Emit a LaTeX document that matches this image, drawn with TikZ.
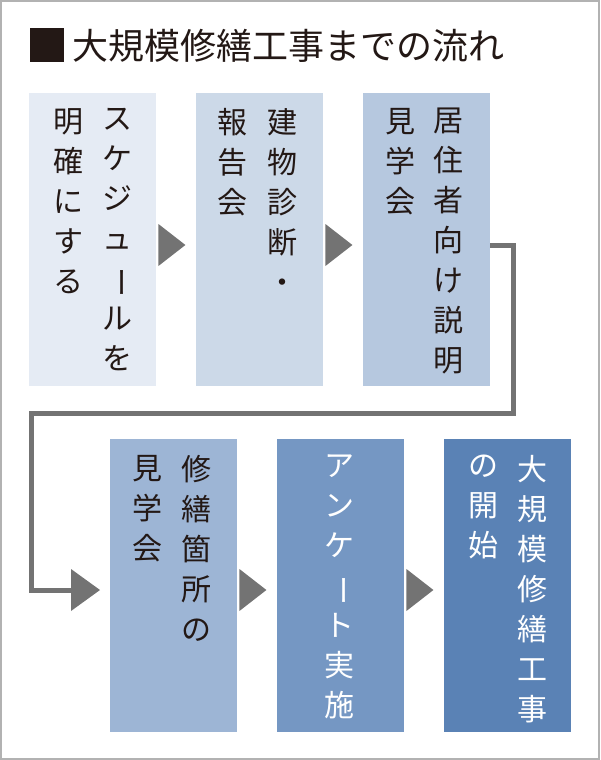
\documentclass[tikz,border=0pt]{standalone}
\usepackage{fontspec}
\setmainfont{Noto Sans CJK JP}
\usetikzlibrary{positioning,calc}
\definecolor{boxa}{HTML}{E5EBF4}
\definecolor{boxb}{HTML}{CCD9E8}
\definecolor{boxc}{HTML}{B6C8DF}
\definecolor{boxd}{HTML}{9DB5D5}
\definecolor{boxe}{HTML}{7597C3}
\definecolor{boxf}{HTML}{5A82B5}
\definecolor{ink}{HTML}{231815}
\newcommand{\vbar}{\rotatebox[origin=c]{-90}{ー}}
\tikzset{
  flowstep/.style={anchor=north west, inner sep=0pt, minimum width=127pt, minimum height=293pt},
  vtext/.style={anchor=north, align=center, inner sep=0pt, font=\fontsize{30}{40}\selectfont},
  tip/.style={fill=gray!90!black}
}
\begin{document}
\begin{tikzpicture}[x=1pt, y=-1pt]
    % Frame
    \useasboundingbox (0,0) rectangle (600,760);
    \draw[gray!60, line width=2pt] (1,1) rectangle (599,759);

    % Title
    \fill[ink] (30,28) rectangle (64,62);
    \node[anchor=west, inner sep=0pt, font=\fontsize{36}{36}\selectfont, text=ink] (title) at (72,46) {大規模修繕工事までの流れ};

    % Steps, first row
    \node[flowstep, fill=boxa] (s1) at (29,93) {};
    \node[flowstep, fill=boxb] (s2) at (196,93) {};
    \node[flowstep, fill=boxc] (s3) at (363,93) {};
    % Steps, second row
    \node[flowstep, fill=boxd] (s4) at (110,439) {};
    \node[flowstep, fill=boxe] (s5) at (277,439) {};
    \node[flowstep, fill=boxf] (s6) at (444,439) {};

    % Labels
    \node[vtext, text=ink] (t1a) at (117,108) {ス\\ケ\\ジ\\ュ\\\vbar\\ル\\を};
    \node[vtext, text=ink] (t1b) at (68,108) {明\\確\\に\\す\\る};
    \node[vtext, text=ink] (t2a) at (282,108) {建\\物\\診\\断\\・};
    \node[vtext, text=ink] (t2b) at (232,108) {報\\告\\会};
    \node[vtext, text=ink] (t3a) at (448,108) {居\\住\\者\\向\\け\\説\\明};
    \node[vtext, text=ink] (t3b) at (400,108) {見\\学\\会};
    \node[vtext, text=ink] (t4a) at (196,455) {修\\繕\\箇\\所\\の};
    \node[vtext, text=ink] (t4b) at (147,455) {見\\学\\会};
    \node[vtext, text=white] (t5) at (339,455) {ア\\ン\\ケ\\\vbar\\ト\\実\\施};
    \node[vtext, text=white] (t6a) at (532,455) {大\\規\\模\\修\\繕\\工\\事};
    \node[vtext, text=white] (t6b) at (483,455) {の\\開\\始};

    % Return line
    \coordinate (r1) at (513,245);
    \coordinate (r2) at (31,413);
    \coordinate (r3) at (71,590);
    \draw[gray!90!black, line width=5pt] (s3.east |- r1) -- (r1) |- (r2) |- (r3);

    % Arrow tips
    \foreach \a/\y in {s1/245, s2/245, s4/590, s5/590} {
        \coordinate (p) at (\a.east |- 0,\y);
        \fill[tip] (p) ++(2,-21) -- ++(27,21) -- ++(-27,21) -- cycle;
    }
    \fill[tip] (r3) ++(0,-21) -- ++(29,21) -- ++(-29,21) -- cycle;
\end{tikzpicture}
\end{document}
